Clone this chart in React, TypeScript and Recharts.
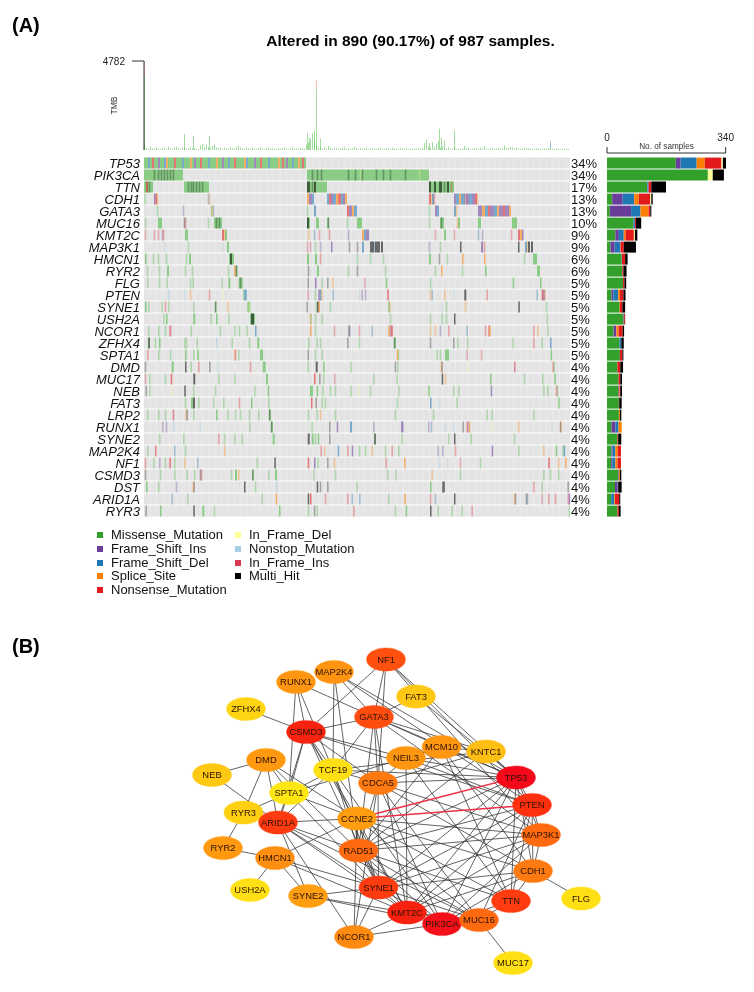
import React from "react";
import { BarChart, Bar, XAxis, YAxis, ScatterChart, Scatter, Legend } from "recharts";

const FONT = "'Liberation Sans', Arial, sans-serif";

const genes = ["TP53","PIK3CA","TTN","CDH1","GATA3","MUC16","KMT2C","MAP3K1","HMCN1","RYR2","FLG","PTEN","SYNE1","USH2A","NCOR1","ZFHX4","SPTA1","DMD","MUC17","NEB","FAT3","LRP2","RUNX1","SYNE2","MAP2K4","NF1","CSMD3","DST","ARID1A","RYR3"];
const percents = [34,34,17,13,13,10,9,9,6,6,5,5,5,5,5,5,5,4,4,4,4,4,4,4,4,4,4,4,4,4];

const mutationNames: Record<string,string> = { M:"Missense_Mutation", I:"Frame_Shift_Ins", D:"Frame_Shift_Del", S:"Splice_Site", N:"Nonsense_Mutation", Y:"In_Frame_Del", O:"Nonstop_Mutation", F:"In_Frame_Ins", H:"Multi_Hit" };
const mutationColors: Record<string,string> = { M:"#33a02c", I:"#6a3d9a", D:"#1f78b4", S:"#ff7f00", N:"#e31a1c", Y:"#ffff99", O:"#a6cee3", F:"#d9364f", H:"#000000" };
const seriesOrder = ["M","I","D","S","N","Y","O","F","H"];
const legendLeft = ["M","I","D","S","N"];
const legendRight = ["Y","O","F","H"];

// per-gene sample counts in the right-hand bars
const cntMissense = [197,289,115,15,8,76,24,10,42,44,46,13,36,47,19,36,37,30,33,32,34,34,13,30,13,12,32,23,12,30];
const cntFsIns    = [14,0,1,30,61,0,10,12,0,0,0,5,0,0,8,0,0,0,0,2,0,0,11,0,3,3,2,6,0,0];
const cntFsDel    = [46,0,3,33,27,4,14,16,1,0,0,14,0,1,0,5,0,0,0,0,0,0,9,0,8,9,0,2,9,0];
const cntSplice   = [23,0,0,13,23,0,5,1,0,0,0,5,1,0,6,0,0,0,0,2,0,3,9,0,7,6,3,0,2,0];
const cntNonsense = [48,0,8,33,5,3,24,9,9,3,4,10,7,3,12,0,7,8,5,2,1,0,0,2,9,10,0,1,12,4];
const cntInDel    = [4,14,0,3,0,0,3,0,0,0,0,0,0,0,0,0,0,0,0,0,0,0,0,0,0,0,0,0,0,0];
const cntMulti    = [9,32,42,4,3,15,7,35,7,9,5,6,8,1,4,7,3,8,5,5,7,4,0,9,0,0,4,10,3,5];

// TMB track, one value for every second sample column
const tmbBase = [
 340,110,80,170,90,60,140,70,60,130,90,60,170,80,70,120,180,80,60,100,
 120,70,90,150,80,110,60,50,240,320,180,280,160,80,220,300,140,90,120,60,
 110,80,60,150,100,80,160,230,120,80,60,110,90,60,130,80,70,100,150,80,
 60,90,120,80,100,70,60,110,80,90,120,100,60,80,150,70,90,60,100,120,
 80,300,420,600,900,500,280,170,120,80,180,60,230,120,60,80,100,60,80,120,
 150,60,80,70,100,180,80,60,90,70,80,120,60,80,70,100,60,120,80,60,
 70,90,80,60,120,80,70,60,100,80,60,90,70,80,60,100,70,80,60,120,
 380,560,180,120,420,150,360,480,120,200,80,100,150,60,80,120,60,80,60,100,
 230,80,120,60,80,100,60,80,120,80,220,80,60,100,80,70,80,120,60,80,
 260,100,120,180,150,80,120,100,70,80,90,120,100,80,60,70,90,80,60,70,
 80,60,90,70,80,60,70,80,60,70,60,80,60];
// column, missense part, other part, colour family of other part
const tmbSpikes: [number,number,number,string][] = [
 [0,3960,820,"r"],[40,860,0,"r"],[49,750,0,"r"],[65,750,0,"r"],[163,830,100,"r"],[165,660,0,"r"],[172,3300,440,"r"],[170,1050,0,"r"],[176,570,60,"r"],[295,1140,0,"r"],[297,670,0,"r"],[300,480,60,"r"],[310,1020,40,"r"],[285,380,0,"r"],[406,90,360,"b"]
];

const hitsTP53str = "MMDMNMMIMMDSMMMNMMMDMMMSMIMMNMMMDMMMSMMIMMDMMNMMMMSDMMMIMMNMMMDMMMMSMNMIMMDMMSMNM";

type Hit = [number,string,number?];
const hitsPIK3CA: Hit[] = [[0,"M",39],[163,"M",122],[10,"H"],[14,"H"],[17,"H"],[20,"H"],[23,"H"],[26,"H"],[29,"H"],[168,"H"],[173,"H"],[177,"H"],[204,"H"],[211,"H"],[216,"Y"],[218,"H"],[232,"H"],[239,"H"],[246,"H"],[261,"H"],[275,"Y"]];
const hitsTTN: Hit[] = [[0,"M",9],[2,"N",2],[5,"H"],[40,"M",25],[44,"H"],[47,"H"],[49,"H"],[52,"H"],[55,"H"],[58,"H"],[163,"M",20],[163,"H",3],[168,"H"],[170,"H",2],[285,"M",25],[285,"H",2],[290,"H",2],[295,"H",3],[300,"H"],[303,"H",2],[307,"N"]];
const hitsCDH1: Hit[] = [[0.5,"M"],[10,"I",1.5],[11.5,"N",1.5],[13,"S"],[64,"D",1],[65,"S"],[163,"S",2],[165,"I",3],[168,"D",2],[183,"D",2],[185,"N",2],[187,"I",2],[189,"D",3],[192,"S",2],[194,"N",3],[197,"D",2],[199,"I",2],[201,"S",2],[285,"N",2],[287,"S",1],[288,"D",2],[290,"N",1],[310,"I",2],[312,"D",3],[315,"S",2],[317,"D",4],[321,"N",1],[322,"I",3],[325,"D",3],[328,"I",3],[331,"N",2],[333,"S"]];
const hitsGATA3: Hit[] = [[13,"M"],[39,"I"],[67,"M"],[68,"S"],[69,"D"],[163,"M"],[170,"D",2],[203,"N",2],[205,"I",3],[208,"S",2],[210,"D",3],[285,"M"],[291,"I",2],[293,"D",2],[310,"D",2],[312,"S"],[334,"I",4],[338,"S",3],[341,"D",3],[344,"N",2],[346,"I",4],[350,"D",3],[353,"S",2],[355,"I",4],[359,"N",2],[361,"I",4],[365,"S",2]];
const hitsMUC16: Hit[] = [[1,"M"],[14,"M",4],[40,"H",1],[41,"N",1],[64,"M"],[70,"M",8],[72,"H",1],[75,"H",1],[163,"M",3],[163,"H",2],[172,"M",3],[183,"M",2],[184,"H"],[203,"M"],[213,"M",5],[285,"M"],[296,"M",4],[297,"H"],[313,"S"],[314,"M",2],[334,"M",3],[368,"M",5]];
const hitsKMT2C: Hit[] = [[1,"F"],[10,"F"],[14,"F"],[18,"I",1],[19,"N",1],[41,"M",3],[78,"N",2],[80,"S"],[81,"M",2],[164,"S"],[170,"D"],[175,"F"],[185,"N"],[204,"I"],[218,"S",2],[220,"D",2],[222,"I",3],[291,"F"],[300,"M",2],[310,"F"],[334,"D"],[338,"I"],[367,"F"],[374,"N",2],[376,"S",2],[378,"I",1.5]];
const hitsMAP3K1: Hit[] = [[20,"O"],[44,"M"],[78,"O"],[83,"M",2],[163,"F"],[166,"F"],[171,"M"],[176,"I"],[187,"I",1.5],[205,"H"],[213,"H"],[218,"D",2],[226,"H",4],[230,"D",1],[231,"H",5],[237,"H",2],[285,"I"],[296,"M"],[316,"H",1.5],[337,"I",2],[340,"N"],[374,"H",1.5],[381,"D",2],[383,"S",1],[384,"H",2],[387,"H",2]];
const hitsHMCN1: Hit[] = [[1,"M",1.5],[9,"M"],[14,"M"],[22,"M"],[42,"M"],[45,"M",2],[85,"M",5],[86,"H",2],[163,"M",2],[171,"M",2],[176,"N"],[213,"M"],[226,"M"],[239,"M"],[285,"M",2],[295,"H"],[303,"M"],[318,"S",1.5],[340,"S",1.5],[380,"M"],[389,"M",4]];
const hitsRYR2: Hit[] = [[3,"M"],[15,"M"],[23,"M",2],[41,"M"],[48,"M"],[84,"M"],[90,"S",1.5],[91.5,"M",2],[92,"H",1],[164,"H"],[173,"M",2],[204,"M"],[213,"H"],[241,"M"],[291,"M"],[297,"S",1.5],[318,"M"],[341,"M",1.5],[393,"M",3]];
const hitsFLG: Hit[] = [[3.3,"M"],[15,"M"],[22.7,"M"],[46,"M"],[48.7,"M"],[77.7,"M"],[84.3,"M",2],[94.7,"M",4],[96,"H",1],[163.7,"H"],[171,"I",1.5],[177.7,"M"],[183.3,"H"],[188.3,"S"],[220.3,"F"],[241.7,"M",1.5],[286,"M"],[368.7,"M",1.5],[396,"M",1.5]];
const hitsPTEN: Hit[] = [[24.3,"O",1.5],[40.3,"O"],[46,"S"],[65,"N"],[78.3,"Y"],[99.3,"M",1],[100.3,"D",2.5],[163.7,"F"],[171,"M"],[174.3,"I",1.5],[175.8,"D",1.5],[177.3,"S",1],[188.7,"D"],[215,"O"],[217.7,"I"],[221,"I"],[243.3,"N",1.5],[286,"S"],[287.7,"D"],[300.3,"S"],[310,"O"],[320.3,"H",2],[342.7,"N"],[392.7,"D"],[397.7,"N",1.5],[399.2,"I",1.5],[400.7,"S",1]];
const hitsSYNE1: Hit[] = [[1,"M",1.5],[4.3,"M"],[17.7,"M"],[21,"N"],[24.3,"M"],[49.3,"M"],[71,"H",1],[71,"M",1.5],[83.7,"S"],[103.3,"M",3],[105,"Y",1],[162.7,"H"],[172,"M",1],[173,"H",1.5],[174.5,"S",1.5],[186,"M"],[244.3,"M",1.5],[245.5,"S",1],[297.7,"O"],[302,"M"],[321,"S"],[374.3,"H",1.5],[402,"M"]];
const hitsUSH2A: Hit[] = [[19.3,"M"],[22,"M",1.5],[49.3,"M",2],[66.7,"M"],[72,"M",1.5],[84.3,"M"],[106,"M",5],[107,"H",3],[166,"S"],[166.6,"M"],[171,"M"],[177.7,"M"],[246,"M"],[286,"M"],[297.7,"M"],[302,"M"],[310,"H",1.5],[402.7,"M"]];
const hitsNCOR1: Hit[] = [[4.3,"M"],[14.3,"M"],[21,"M"],[25.3,"F",2],[46.7,"M"],[76,"M"],[90.3,"M"],[95,"M"],[102.7,"M"],[111,"D",1.5],[166,"S",1.5],[171,"M"],[190,"F"],[204.3,"H",1],[205.3,"I",1],[215,"F"],[227.7,"D"],[244.3,"S",1.5],[245.8,"I",1],[246.8,"N",2],[286,"S"],[291,"S"],[296,"I"],[304.3,"N"],[322.7,"D"],[341,"N"],[344.3,"N",1],[345,"S",1.5],[389.3,"N"],[393.3,"S"],[403.3,"M"]];
const hitsZFHX4: Hit[] = [[4.3,"H",1.5],[4.3,"M",1.5],[11,"M"],[15,"M",1.5],[40.3,"M"],[42,"M"],[52.7,"M"],[72,"O",1.5],[87.7,"M"],[105,"M"],[113.3,"M",2],[164.3,"M"],[172.7,"M"],[176,"M"],[203.3,"H"],[215,"M"],[250,"H",1],[250,"M",2],[286,"H"],[309.3,"H"],[313.3,"M"],[323.3,"M"],[368.7,"M"],[389.3,"N"],[397.7,"M"],[406,"D",1.5]];
const hitsSPTA1: Hit[] = [[3.3,"N"],[14.3,"M"],[26,"M"],[41,"M",1.5],[49.3,"M"],[53.3,"M",1.5],[90.3,"S",1],[91,"N",1],[94.3,"M"],[116,"M",3],[163.7,"H"],[171,"M"],[177.7,"M"],[252.7,"S",1.5],[254,"M",1],[292.7,"M"],[296,"M"],[301,"M",4],[322.7,"F"],[337,"F"],[406.7,"M",1.5]];
const hitsDMD: Hit[] = [[1,"H"],[27.7,"M",2],[41,"H",1.5],[46.7,"M"],[54.3,"N"],[65.3,"H"],[73.3,"O"],[106,"N"],[118.7,"M",3],[163.7,"M"],[171.7,"H",2],[179.3,"M",1.5],[206.7,"M"],[251,"H"],[253.3,"M"],[297,"S",1],[297.6,"H",1],[323.3,"Y"],[370,"F",1.5],[408.7,"N",1],[409.7,"M",1]];
const hitsMUC17: Hit[] = [[1,"F"],[5.3,"M"],[21,"M"],[26.7,"N",1.5],[49.3,"H",2],[74.3,"M"],[90.3,"M"],[122,"M",2],[170,"N",1.5],[175.3,"H"],[179.3,"M"],[190.3,"F"],[229.3,"M"],[252.7,"M"],[297.7,"H",1.5],[301,"S"],[346,"M",1.5],[380,"M"],[398.3,"M"],[410.3,"M",1.5]];
const hitsNEB: Hit[] = [[1.7,"H"],[5.3,"M"],[27,"Y"],[40.3,"H",1.5],[49.3,"M"],[71,"M"],[110.3,"M"],[123.7,"M",1.5],[166,"M",3],[172.7,"M",1.5],[178.3,"M"],[186,"M"],[191,"M"],[206.7,"M"],[214.3,"Y"],[226,"M"],[254.3,"M"],[284.3,"M",1.5],[309.3,"M"],[314.3,"M"],[346.7,"I",1.5],[399.3,"M"],[403.3,"M"],[412,"N",1],[413,"M",1]];
const hitsFAT3: Hit[] = [[41,"M"],[47,"M",2],[49,"H",2],[54.3,"M"],[69.3,"M"],[79.3,"M"],[95,"N"],[107,"M",1.5],[124.3,"M"],[167,"N",1.5],[171.7,"H"],[177.7,"M"],[181,"M"],[253,"M"],[286,"D",1.5],[295,"O"],[312.7,"M"],[414.3,"M",1.5]];
const hitsLRP2: Hit[] = [[3.3,"M"],[14.3,"M"],[21,"M"],[28.7,"F",1.5],[41.7,"S",1],[42.7,"H",1],[49.3,"M"],[72,"M",1.5],[83.3,"M"],[91,"M"],[96,"M"],[105,"M"],[114.3,"M"],[125,"H",1],[125,"M",2],[164,"M"],[172.7,"M"],[176,"S"],[191,"M"],[251,"M"],[289,"M"],[342.7,"M"],[347.7,"M"],[389.3,"M"]];
const hitsRUNX1: Hit[] = [[18.3,"I"],[22,"I"],[29.3,"O"],[56,"O"],[105.3,"M"],[127,"H",1],[127,"M",2],[167.7,"M"],[185.3,"H"],[192.7,"I",1.5],[206,"D",2],[229.3,"I"],[257,"I",2.5],[284.3,"I"],[287,"D"],[301,"O"],[309.3,"O"],[318.7,"H"],[322.7,"N",1],[323.7,"I",1],[324.7,"S",1.5],[347.7,"Y"],[374.3,"S"],[407.7,"O"],[416,"H",1],[416.5,"S",1]];
const hitsSYNE2: Hit[] = [[15.3,"M"],[39.3,"M"],[74.3,"N"],[80,"M"],[90.3,"M"],[97.7,"M"],[128.7,"M",2],[163.7,"H",2],[167.7,"M",2],[171,"M"],[173.7,"M",1.5],[185.3,"H"],[230.3,"H",1.5],[230.3,"M",1],[257.7,"M"],[304.3,"M"],[310,"H",1.5],[326.7,"M"],[370,"M"]];
const hitsMAP2K4: Hit[] = [[3.3,"M"],[11,"F",1.5],[30.3,"D"],[41,"M"],[80.3,"S"],[176.7,"N"],[180.3,"S"],[193.7,"D",1.5],[203.3,"N"],[207.7,"I",1.5],[215,"M"],[221,"M"],[227.7,"S"],[241,"M"],[247.7,"N"],[254.3,"M"],[293.7,"I"],[298.3,"I"],[311,"N"],[347.7,"I",1.5],[374.3,"M"],[399.3,"S"],[411.7,"M",1.5],[418.7,"M",1],[419.7,"D",1.5]];
const hitsNF1: Hit[] = [[1,"N"],[9.3,"M"],[15.3,"I"],[21,"M"],[25.3,"N",1.5],[30.3,"M"],[40.3,"S"],[53.3,"D"],[112.7,"M"],[130.3,"H",1.5],[163.7,"N",1.5],[170,"I",1.5],[173.7,"M"],[183.3,"H"],[190,"S"],[241.7,"N"],[260,"S",1.5],[295,"O"],[303.3,"O"],[316,"F"],[336,"M"],[404.3,"N",1.5],[414.3,"S"],[421,"S",1.5]];
const hitsCSMD3: Hit[] = [[1,"H"],[16,"M"],[30.3,"M"],[42.7,"M"],[50.3,"M"],[56,"H",1],[57,"N",1],[87,"M"],[91,"M",2],[94.3,"S"],[108.3,"H",1],[108.3,"M",1.5],[124.3,"M"],[131,"M",2],[169.3,"M"],[191,"M"],[243.3,"M"],[251.7,"M"],[287.7,"S"],[316,"M"],[399.3,"M"],[406,"M"],[414.3,"M"]];
const hitsDST: Hit[] = [[2,"M",1.5],[14.3,"M"],[32,"I"],[48.7,"S",1],[49.7,"H",1],[100,"H",1.5],[111,"M"],[132,"O",1.5],[172.7,"H",1.5],[176,"H"],[183.3,"H"],[212.7,"M"],[286,"M",1.5],[298.3,"H",2.5],[389.3,"N"],[397.7,"M"],[423.7,"H",1]];
const hitsARID1A: Hit[] = [[27.7,"D"],[43.3,"M"],[117.7,"M"],[131.7,"S",1.5],[163.7,"H",1.5],[166,"N",1.5],[181,"N"],[203.3,"N"],[207.7,"D"],[215.3,"D"],[244.3,"M"],[260.3,"S",1.5],[286,"N"],[291,"D"],[310,"H",1.5],[370,"S",1],[371,"H",1],[382,"H",1],[383,"D",1],[397.7,"F"],[404.3,"N"],[411,"N"],[423.7,"F",1],[424.7,"I",1.5]];
const hitsRYR3: Hit[] = [[1.7,"H"],[16,"M",1.5],[49.3,"H",1.5],[58.3,"M",2],[70,"M"],[135,"M",1.5],[164,"M"],[170,"H"],[172.7,"M"],[209.3,"N"],[251,"M"],[261.7,"M",1.5],[286,"H",1.5],[293.7,"M"],[307.7,"M"],[317.7,"M"],[327.7,"N"],[425,"M"]];

const hitsByGene: Hit[][] = [
  hitsTP53str.split("").map((t,i)=>[i*2,t,2] as Hit), hitsPIK3CA, hitsTTN, hitsCDH1, hitsGATA3, hitsMUC16, hitsKMT2C, hitsMAP3K1, hitsHMCN1, hitsRYR2,
  hitsFLG, hitsPTEN, hitsSYNE1, hitsUSH2A, hitsNCOR1, hitsZFHX4, hitsSPTA1, hitsDMD, hitsMUC17, hitsNEB, hitsFAT3, hitsLRP2, hitsRUNX1, hitsSYNE2, hitsMAP2K4, hitsNF1, hitsCSMD3, hitsDST, hitsARID1A, hitsRYR3
];

// network (node positions follow the page layout of panel B)
const nodeNames = ["NF1","MAP2K4","RUNX1","ZFHX4","FAT3","GATA3","CSMD3","MCM10","KNTC1","NEIL3","DMD","TCF19","NEB","CDCA5","SPTA1","TP53","PTEN","RYR3","ARID1A","CCNE2","MAP3K1","RAD51","RYR2","HMCN1","CDH1","USH2A","SYNE1","SYNE2","FLG","TTN","KMT2C","PIK3CA","MUC16","NCOR1","MUC17"];
const nodeX = [386,334,296,246,416,374,306,441.5,486,406,266,333,212,378,289,516,532,243.5,278,357,541,358.5,223,275,533,250,378.5,308,581,511,407,442,479,354,513];
const nodeY = [659.5,672,682,709,696.5,717,732,747,751.5,758,760,770,775,783,793,777.5,805,812.5,822.5,818.5,835,850.5,848,858,871,890,887.5,896,898.5,901,912.5,924,920,937,963];
const nodeColors = ["#ff5010","#ff9410","#ff9612","#ffd513","#ffc814","#ff4d10","#f7220f","#ff960f","#ffbe12","#ff960f","#ff9a10","#ffe014","#ffc812","#ff7a10","#ffe612","#f4081a","#ff3010","#ffd012","#ff3a10","#ff9c10","#ff6a10","#ff6a10","#ff9a10","#ff8f10","#ff7b12","#ffe014","#ff3c10","#ff9e10","#ffe014","#ff3c10","#f8200f","#f4101a","#ff6a10","#ff8a10","#ffe014"];
const linksBlack: [string,string[]][] = [
 ["ZFHX4",["CSMD3"]],["NEB",["DMD","ARID1A"]],["RUNX1",["CSMD3","SPTA1","GATA3","TCF19"]],
 ["MAP2K4",["GATA3","TP53","PTEN","TCF19","RAD51"]],
 ["NF1",["CSMD3","GATA3","CDCA5","TP53","PTEN","MAP3K1"]],
 ["FAT3",["GATA3","TP53"]],
 ["GATA3",["CSMD3","TCF19","MCM10","KNTC1","TP53","MAP3K1","CDCA5","RAD51","KMT2C"]],
 ["CSMD3",["TCF19","SPTA1","CDCA5","NEIL3","PTEN","CCNE2","ARID1A","SYNE1","KMT2C"]],
 ["DMD",["SPTA1","RYR3","CCNE2","ARID1A","RAD51"]],["SPTA1",["RYR3","TCF19","ARID1A","MCM10","CCNE2","SYNE1"]],
 ["TCF19",["CDCA5","RAD51","SYNE1","PIK3CA","TP53","KNTC1","ARID1A"]],
 ["RYR3",["RYR2","ARID1A"]],["RYR2",["HMCN1"]],["HMCN1",["USH2A","SYNE2","SYNE1","KMT2C","CCNE2"]],
 ["ARID1A",["CCNE2","RAD51","SYNE1","SYNE2","NCOR1","KMT2C","MUC16"]],
 ["CCNE2",["RAD51","SYNE1","KMT2C","MUC16","TTN","CDH1","MAP3K1","NCOR1"]],
 ["SYNE2",["SYNE1","KMT2C","PIK3CA"]],["NCOR1",["SYNE1","KMT2C","PIK3CA","CDCA5"]],
 ["NEIL3",["MCM10","CDCA5","TP53","PTEN","KMT2C","TTN"]],
 ["MCM10",["KNTC1","TP53","CDH1","RAD51","TTN"]],["KNTC1",["TP53","CDCA5","RAD51"]],
 ["CDCA5",["TP53","MAP3K1","RAD51","SYNE1","PIK3CA","MUC16","CDH1"]],
 ["TP53",["PTEN","MAP3K1","CDH1","TTN","PIK3CA","KMT2C","SYNE1","RAD51"]],
 ["PTEN",["MAP3K1","CDH1","TTN","MUC16","KMT2C","SYNE1","RAD51"]],
 ["MAP3K1",["CDH1","PIK3CA","KMT2C","SYNE1","RAD51"]],
 ["CDH1",["FLG","TTN","PIK3CA","KMT2C","SYNE1"]],
 ["RAD51",["SYNE1","KMT2C","PIK3CA","MUC16","TTN"]],["SYNE1",["KMT2C","PIK3CA","MUC16"]],
 ["KMT2C",["PIK3CA","MUC16"]],["PIK3CA",["MUC16","TTN"]],["MUC16",["TTN","MUC17"]]
];
const linksRed: [string,string][] = [["CCNE2","TP53"],["CCNE2","PTEN"]];

// ---- tables built from the arrays above ----
const tmbRows: any[] = [
  ...tmbBase.map((v,i)=>({ c:i*2+0.5, m:v, r:0, b:0 })),
  ...tmbSpikes.map(([c,m,o,k])=>({ c:c+0.5, m, r:k==="r"?o:0, b:k==="b"?o:0 }))
];
const barRows = genes.map((g,i)=>({ gene:g, M:cntMissense[i], I:cntFsIns[i], D:cntFsDel[i], S:cntSplice[i], N:cntNonsense[i], Y:cntInDel[i], H:cntMulti[i] }));
const bgRows = genes.map((_,i)=>({ x:213, y:i, w:426 }));
const hitRows = (t:string)=> hitsByGene.flatMap((hits,i)=>hits.filter(h=>h[1]===t).map(h=>({ x:h[0]+(h[2]??1)/2, y:i, w:h[2]??1, t })));
const nodes = nodeNames.map((n,i)=>({ name:n, x:nodeX[i], y:nodeY[i], color:nodeColors[i] }));
const pos = (n:string)=>nodes[nodeNames.indexOf(n)];
const edgesBlack = linksBlack.flatMap(([a,bs])=>bs.map(b=>[pos(a),pos(b)]));
const edgesRed = linksRed.map(([a,b])=>[pos(a),pos(b)]);

const ROW_H = 11;
const StripeDefs = () => (
  <defs>
    <pattern id="wtStripe" width={6.5} height={12} patternUnits="userSpaceOnUse">
      <rect width={6.5} height={12} fill="#e4e4e4" />
      <rect width={0.7} height={12} fill="#ededed" />
    </pattern>
  </defs>
);
const BgCell = (p:any) => (
  <g><StripeDefs /><rect x={p.cx-p.payload.w/2} y={p.cy-ROW_H/2} width={p.payload.w} height={ROW_H} fill="url(#wtStripe)" /></g>
);
const HitCell = (p:any) => {
  const w = p.payload.w;
  const thin = w <= 1;
  const drawn = thin ? 1.6 : w;
  const fill = p.payload.t === "M" ? "#3fb836" : p.fill;
  const opacity = thin ? (p.payload.t === "H" ? 0.28 : 0.32) : 0.55;
  return <rect x={p.cx-drawn/2} y={p.cy-ROW_H/2} width={drawn} height={ROW_H} fill={fill} fillOpacity={opacity} />;
};
const NodeShape = (p:any) => (
  <g>
    <ellipse cx={p.cx} cy={p.cy} rx={19.5} ry={11.6} fill={p.payload.color} stroke={p.payload.color} strokeOpacity={0.3} strokeWidth={1.2} />
    <text x={p.cx} y={p.cy+3.3} textAnchor="middle" fontSize={9.4} fontFamily={FONT} fill="#2a1200">{p.payload.name}</text>
  </g>
);
const NoDot = () => <g />;

const LegendColumn = ({ keys, left }: { keys:string[]; left:number }) => (
  <div style={{ position:"absolute", left, top:11 }}>
    {keys.map(k=>(
      <div key={k} style={{ position:"relative", height:13.8, width:140 }}>
        <span style={{ position:"absolute", left:0, top:4, width:6, height:6, background:mutationColors[k] }} />
        <span style={{ position:"absolute", left:14, top:-1, fontSize:13, lineHeight:"15px", color:"#111", whiteSpace:"nowrap", fontFamily:FONT }}>{mutationNames[k]}</span>
      </div>
    ))}
  </div>
);
const LegendBox = () => (
  <div style={{ position:"relative", width:754, height:80 }}>
    <LegendColumn keys={legendLeft} left={97} />
    <LegendColumn keys={legendRight} left={235} />
  </div>
);

export default function App() {
  return (
    <div style={{ position:"absolute", left:0, top:0, width:754, height:992, background:"#fff", fontFamily:FONT, filter:"blur(0.35px)", overflow:"hidden" }}>
      <div style={{ position:"absolute", left:12, top:14, fontSize:20, fontWeight:700, color:"#000" }}>(A)</div>
      <div style={{ position:"absolute", left:12, top:635, fontSize:20, fontWeight:700, color:"#000" }}>(B)</div>
      <div style={{ position:"absolute", left:200, width:421, top:32, textAlign:"center", fontSize:15.5, fontWeight:700, color:"#000" }}>Altered in 890 (90.17%) of 987 samples.</div>

      <div style={{ position:"absolute", left:0, top:50 }}>
        <BarChart width={600} height={104} data={tmbRows} margin={{ top:11, right:30, bottom:4, left:0 }} barSize={1.5} barGap={0}>
          <XAxis type="number" dataKey="c" domain={[0,426]} hide />
          <YAxis width={144} domain={[0,4782]} ticks={[0,4782]} tickSize={12} tickMargin={7} tick={{ fontSize:10, fill:"#222", fontFamily:FONT }} stroke="#333" label={{ value:"TMB", angle:-90, position:"insideLeft", offset:114, style:{ fontSize:8.5, fill:"#333", fontFamily:FONT, textAnchor:"middle" } }} />
          <Bar dataKey="m" stackId="t" fill="#3fb836" fillOpacity={0.55} isAnimationActive={false} />
          <Bar dataKey="r" stackId="t" fill="#e31a1c" fillOpacity={0.35} isAnimationActive={false} />
          <Bar dataKey="b" stackId="t" fill="#1f78b4" fillOpacity={0.5} isAnimationActive={false} />
        </BarChart>
      </div>

      <div style={{ position:"absolute", left:0, top:150 }}>
        <ScatterChart width={754} height={447} margin={{ top:7, right:154, bottom:0, left:0 }}>
          <XAxis type="number" dataKey="x" domain={[0,426]} hide />
          <YAxis yAxisId="l" type="number" dataKey="y" width={144} domain={[-0.5,29.5]} reversed ticks={genes.map((_,i)=>i)} interval={0} tickFormatter={(v:number)=>genes[v]} axisLine={false} tickLine={false} tickMargin={4} tickSize={0} tick={{ fontSize:13, fontStyle:"italic", fill:"#111", fontFamily:FONT }} />
          <YAxis yAxisId="r" orientation="right" type="number" dataKey="y" width={30} domain={[-0.5,29.5]} reversed ticks={genes.map((_,i)=>i)} interval={0} tickFormatter={(v:number)=>percents[v]+"%"} axisLine={false} tickLine={false} tickMargin={1} tickSize={0} tick={{ fontSize:13, fill:"#111", fontFamily:FONT }} />
          <Scatter yAxisId="r" name="Percent" data={bgRows} shape={NoDot} isAnimationActive={false} legendType="none" />
          <Scatter yAxisId="l" name="Wild_Type" data={bgRows} shape={BgCell} isAnimationActive={false} legendType="none" />
          {seriesOrder.map(t=>(
            <Scatter key={t} yAxisId="l" name={mutationNames[t]} data={hitRows(t)} fill={mutationColors[t]} shape={HitCell} isAnimationActive={false} />
          ))}
          <Legend height={80} content={<LegendBox />} wrapperStyle={{ left:0, bottom:0, width:754 }} />
        </ScatterChart>
      </div>

      <div style={{ position:"absolute", left:590, top:120 }}>
        <BarChart layout="vertical" width={160} height={397} data={barRows} margin={{ top:3, right:24, bottom:0, left:17 }} barCategoryGap={0.6} barGap={0}>
          <XAxis xAxisId={0} type="number" orientation="top" domain={[0,340]} ticks={[0,340]} height={30} tickSize={6} tickMargin={6} tick={{ fontSize:10, fill:"#222", fontFamily:FONT }} stroke="#333" label={{ value:"No. of samples", position:"insideBottom", offset:4, style:{ fontSize:8.2, fill:"#333", fontFamily:FONT } }} />
          <YAxis type="category" dataKey="gene" hide padding={{ top:4, bottom:0 }} />
          {["M","I","D","S","N","Y","H"].map(t=>(
            <Bar key={t} dataKey={t} stackId="s" fill={mutationColors[t]} isAnimationActive={false} />
          ))}
        </BarChart>
      </div>

      <div style={{ position:"absolute", left:0, top:620 }}>
        <ScatterChart width={754} height={372} margin={{ top:0, right:0, bottom:0, left:0 }}>
          <XAxis type="number" dataKey="x" domain={[0,754]} hide />
          <YAxis type="number" dataKey="y" domain={[620,992]} reversed hide />
          {edgesBlack.map((e,i)=>(
            <Scatter key={"b"+i} data={e} line={{ stroke:"#333", strokeWidth:0.9, strokeOpacity:0.85 }} shape={NoDot} legendType="none" isAnimationActive={false} />
          ))}
          {edgesRed.map((e,i)=>(
            <Scatter key={"r"+i} data={e} line={{ stroke:"#f03048", strokeWidth:1.6 }} shape={NoDot} legendType="none" isAnimationActive={false} />
          ))}
          <Scatter data={nodes} shape={NodeShape} isAnimationActive={false} />
        </ScatterChart>
      </div>
    </div>
  );
}
